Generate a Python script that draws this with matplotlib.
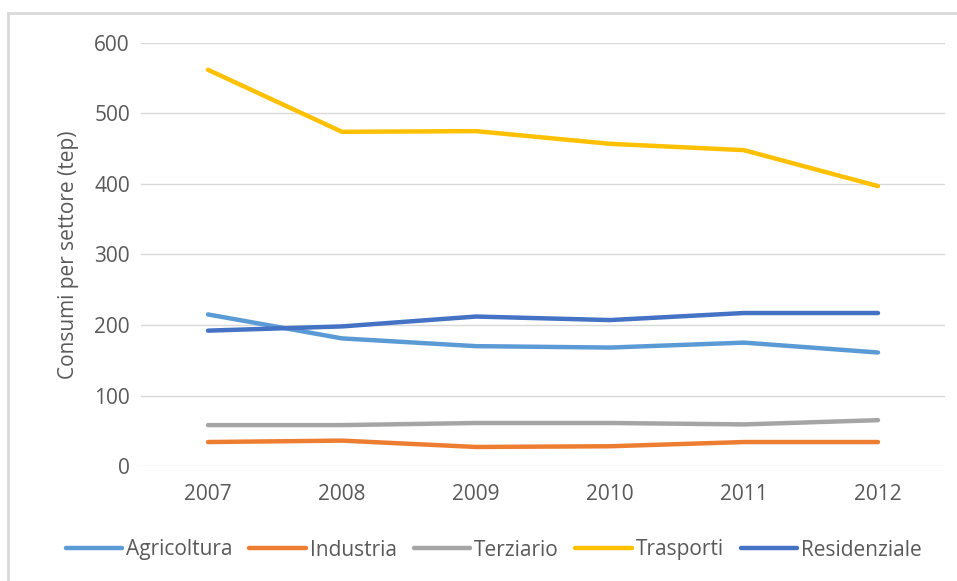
import matplotlib
matplotlib.use("Agg")
import matplotlib.pyplot as plt
from matplotlib.lines import Line2D

plt.rcParams["font.family"] = ["Open Sans", "DejaVu Sans"]

years = ["2007", "2008", "2009", "2010", "2011", "2012"]
agricoltura = [215, 181, 170, 168, 175, 161]
industria = [34, 36, 27, 28, 34, 34]
terziario = [58, 58, 61, 61, 59, 65]
trasporti = [562, 474, 475, 457, 448, 397]
residenziale = [192, 198, 212, 207, 217, 217]

series = [
    ("Agricoltura", agricoltura, "#5B9BD5"),
    ("Industria", industria, "#ED7D31"),
    ("Terziario", terziario, "#A5A5A5"),
    ("Trasporti", trasporti, "#FFC000"),
    ("Residenziale", residenziale, "#4472C4"),
]

text_col = "#595959"
grid_col = "#D9D9D9"

fig = plt.figure(figsize=(9.57, 5.81), dpi=100)
ax = fig.add_axes([141 / 957, 1 - 466 / 581, 804 / 957, 423 / 581])

x = range(len(years))
for name, vals, col in series:
    ax.plot(x, vals, color=col, lw=3.2, label=name, solid_capstyle="round")

ax.set_xlim(-0.5, len(years) - 0.5)
ax.set_ylim(0, 600)
ax.set_yticks(range(0, 601, 100))
ax.set_xticks(list(x))
ax.set_xticklabels(years)
ax.grid(axis="y", color=grid_col, lw=1)
ax.set_axisbelow(True)
for s in ax.spines.values():
    s.set_visible(False)
ax.tick_params(axis="both", length=0, labelsize=15, colors=text_col)
ax.tick_params(axis="y", pad=8)
ax.tick_params(axis="x", pad=13)
ax.set_ylabel("Consumi per settore (tep)", fontsize=15, color=text_col, labelpad=11)

fig.legend(loc="center", bbox_to_anchor=(0.516, 1 - 550 / 581), ncol=5,
           frameon=False, fontsize=15, handlelength=2.7, handletextpad=0.2,
           columnspacing=0.8, labelcolor=text_col)

# chart frame, only its top and left edges fall inside the image
fig.add_artist(Line2D([8 / 957, 8 / 957], [0, 1 - 13 / 581], color=grid_col, lw=2))
fig.add_artist(Line2D([8 / 957, 1], [1 - 13 / 581, 1 - 13 / 581], color=grid_col, lw=2))

fig.savefig("out.png", dpi=100)
